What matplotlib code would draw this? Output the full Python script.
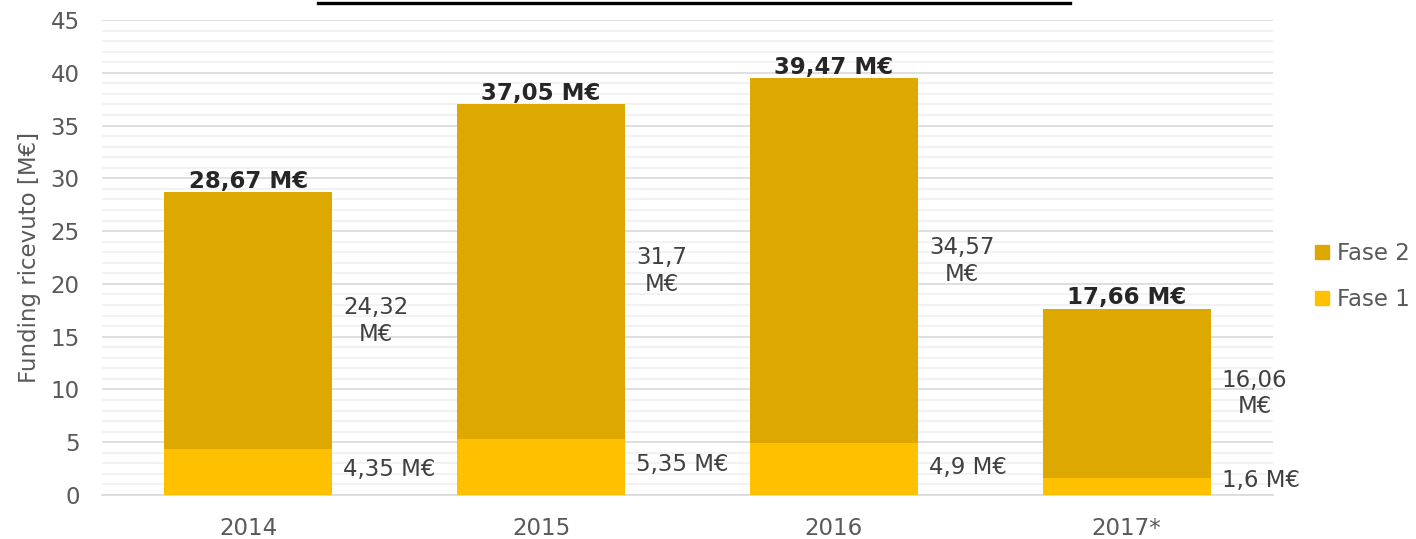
import matplotlib

matplotlib.use("Agg")

import matplotlib.pyplot as plt
from matplotlib.lines import Line2D
from matplotlib.patches import Patch
from matplotlib.ticker import MultipleLocator

YEARS = ["2014", "2015", "2016", "2017*"]
FASE_1 = [4.35, 5.35, 4.9, 1.6]
FASE_2 = [24.32, 31.7, 34.57, 16.06]
TOTALS = [28.67, 37.05, 39.47, 17.66]
FASE_1_LABELS = ["4,35 M€", "5,35 M€", "4,9 M€", "1,6 M€"]
FASE_2_LABELS = ["24,32\nM€", "31,7\nM€", "34,57\nM€", "16,06\nM€"]
TOTAL_LABELS = ["28,67 M€", "37,05 M€", "39,47 M€", "17,66 M€"]

FASE_1_COLOR = "#FFC000"
FASE_2_COLOR = "#DDA800"
TEXT_COLOR = "#404040"
TICK_COLOR = "#595959"
FONT_SIZE = 16.5

plt.rcParams["font.family"] = "DejaVu Sans"

fig = plt.figure(figsize=(14.16, 5.39), dpi=100)
ax = fig.add_axes([0.072, 0.0816, 0.827, 0.8814])

x = list(range(len(YEARS)))
width = 0.574
ax.bar(x, FASE_1, width=width, color=FASE_1_COLOR, zorder=3)
ax.bar(x, FASE_2, width=width, bottom=FASE_1, color=FASE_2_COLOR, zorder=3)

label_x_offset = width / 2 + 0.038
for i in x:
    f1 = FASE_1[i]
    f2 = FASE_2[i]
    ax.text(i + label_x_offset, max(f1 / 2 + 0.2, 1.4), FASE_1_LABELS[i],
            ha="left", va="center", fontsize=FONT_SIZE, color=TEXT_COLOR)
    ax.text(i + label_x_offset, f1 + f2 / 2, FASE_2_LABELS[i], ha="left",
            va="center", fontsize=FONT_SIZE, color=TEXT_COLOR,
            multialignment="center", linespacing=1.2)
    ax.text(i, TOTALS[i] + 0.4, TOTAL_LABELS[i], ha="center", va="baseline",
            fontsize=FONT_SIZE, fontweight="bold", color="#262626")

ax.set_xlim(-0.5, len(YEARS) - 0.5)
ax.set_ylim(0, 45)
ax.set_xticks(x)
ax.set_xticklabels(YEARS)
ax.yaxis.set_major_locator(MultipleLocator(5))
ax.yaxis.set_minor_locator(MultipleLocator(1))
ax.grid(axis="y", which="major", color="#d9d9d9", linewidth=1.2, zorder=0)
ax.grid(axis="y", which="minor", color="#f0f0f0", linewidth=1.2, zorder=0)
ax.set_axisbelow(True)
for side in ("top", "right", "left"):
    ax.spines[side].set_visible(False)
ax.spines["bottom"].set_color("#d9d9d9")
ax.spines["bottom"].set_linewidth(1.2)
ax.tick_params(axis="both", which="both", length=0, labelsize=FONT_SIZE,
               colors=TICK_COLOR)
ax.tick_params(axis="x", pad=16)
ax.tick_params(axis="y", pad=16)
ax.set_ylabel("Funding ricevuto [M€]", fontsize=FONT_SIZE, color=TICK_COLOR,
              labelpad=7)

handles = [Patch(color=FASE_2_COLOR, label="Fase 2"),
           Patch(color=FASE_1_COLOR, label="Fase 1")]
fig.legend(handles=handles, loc="center left", bbox_to_anchor=(0.929, 0.487),
           frameon=False, fontsize=FONT_SIZE, labelcolor=TICK_COLOR,
           handlelength=0.6, handleheight=0.6, handletextpad=0.35,
           labelspacing=1.0, borderpad=0, borderaxespad=0)

# underline of the cropped title at the top edge
fig.add_artist(Line2D([318 / 1416, 1070 / 1416], [1 - 3 / 539, 1 - 3 / 539],
                      color="black", linewidth=2.4, transform=fig.transFigure))

fig.savefig("out.png", dpi=100)
